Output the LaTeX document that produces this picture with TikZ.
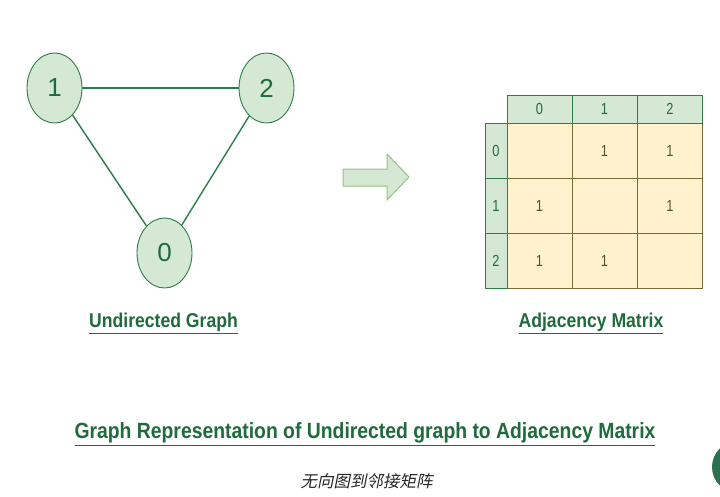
\documentclass[tikz,border=0pt]{standalone}
\usepackage{fontspec}
\setmainfont{Liberation Sans}
\newfontfamily\narrowfont[FakeStretch=0.80]{Liberation Sans}
\newfontfamily\capfont[FakeStretch=0.88]{Liberation Sans}
\newfontfamily\cjkfont[FakeSlant=0.2]{Noto Sans CJK SC}
\usetikzlibrary{shapes.geometric}
\definecolor{nodefill}{HTML}{D5E8D4}
\definecolor{nodestroke}{HTML}{2F7D4A}
\definecolor{textgreen}{HTML}{1E6B3C}
\definecolor{arrowstroke}{HTML}{97C27E}
\definecolor{cellfill}{HTML}{FFF2CC}
\definecolor{cellstroke}{HTML}{7A6A3A}
\definecolor{celltext}{HTML}{5C4D2A}
\definecolor{darkdot}{HTML}{2A7150}
\newcommand{\ulin}[1]{\underline{#1}}
\tikzset{
  vert/.style={ellipse, draw=nodestroke, fill=nodefill, line width=0.9pt,
    minimum width=55pt, minimum height=70pt, inner sep=0pt,
    text=textgreen, font=\fontsize{26}{26}\selectfont},
  edge/.style={draw=nodestroke, line width=1.4pt},
  celltxt/.style={text=celltext, font=\narrowfont\fontsize{16}{16}\selectfont},
  cell/.style={rectangle, draw=cellstroke, fill=cellfill, line width=0.8pt,
    minimum width=65pt, minimum height=55pt, inner sep=0pt},
  hcell/.style={rectangle, draw=nodestroke, fill=nodefill, line width=0.9pt,
    minimum width=65pt, minimum height=28pt, inner sep=0pt,
    text=textgreen, font=\narrowfont\fontsize{16}{16}\selectfont},
  vcell/.style={rectangle, draw=nodestroke, fill=nodefill, line width=0.9pt,
    minimum width=22pt, minimum height=55pt, inner sep=0pt,
    text=textgreen, font=\narrowfont\fontsize{16}{16}\selectfont},
  caption/.style={text=textgreen, inner sep=0pt,
    font=\capfont\bfseries\fontsize{20}{20}\selectfont},
}
\begin{document}
\begin{tikzpicture}[x=1pt,y=-1pt]
\useasboundingbox (0,0) rectangle (720,496);
\fill[white] (0,0) rectangle (720,496);
% graph
\node[vert] (v1) at (54.5,88) {1};
\node[vert] (v2) at (266.5,88) {2};
\node[vert] (v0) at (164.5,253) {0};
\draw[edge] (v1) -- (v2);
\draw[edge] (v1) -- (v0);
\draw[edge] (v2) -- (v0);
% arrow
\draw[draw=arrowstroke, fill=nodefill, line width=1pt]
  (343,169) -- (387,169) -- (387,154) -- (409,177) -- (387,200) -- (387,186) -- (343,186) -- cycle;
% matrix cells
\foreach \r/\y in {0/150.5,1/205.5,2/260.5}{
  \foreach \c/\x in {0/539.5,1/604.5,2/670}{
    \node[cell] (m\r\c) at (\x,\y) {};
  }
}
\node[celltxt] (t01) at (m01) {1};
\node[celltxt] (t02) at (m02) {1};
\node[celltxt] (t10) at (m10) {1};
\node[celltxt] (t12) at (m12) {1};
\node[celltxt] (t20) at (m20) {1};
\node[celltxt] (t21) at (m21) {1};
\node[hcell] (h0) at (539.5,109) {0};
\node[hcell] (h1) at (604.5,109) {1};
\node[hcell] (h2) at (670,109) {2};
\node[vcell] (r0) at (496,150.5) {0};
\node[vcell] (r1) at (496,205.5) {1};
\node[vcell] (r2) at (496,260.5) {2};
% captions
\node[caption] (capg) at (163.5,323.5) {\ulin{Undirected Graph}};
\node[caption] (capm) at (591,323.5) {\ulin{Adjacency Matrix}};
\node[caption, font=\capfont\bfseries\fontsize{22}{22}\selectfont] (title) at (365,434)
  {\ulin{Graph Representation of Undirected graph to Adjacency Matrix}};
\node[text=black!85, font=\cjkfont\fontsize{16.5}{16.5}\selectfont] (cjk) at (366.5,481) {无向图到邻接矩阵};
% partial dot at edge
\begin{scope}
\clip (0,0) rectangle (720,496);
\fill[darkdot] (738,467) circle (26);
\end{scope}
\end{tikzpicture}
\end{document}
